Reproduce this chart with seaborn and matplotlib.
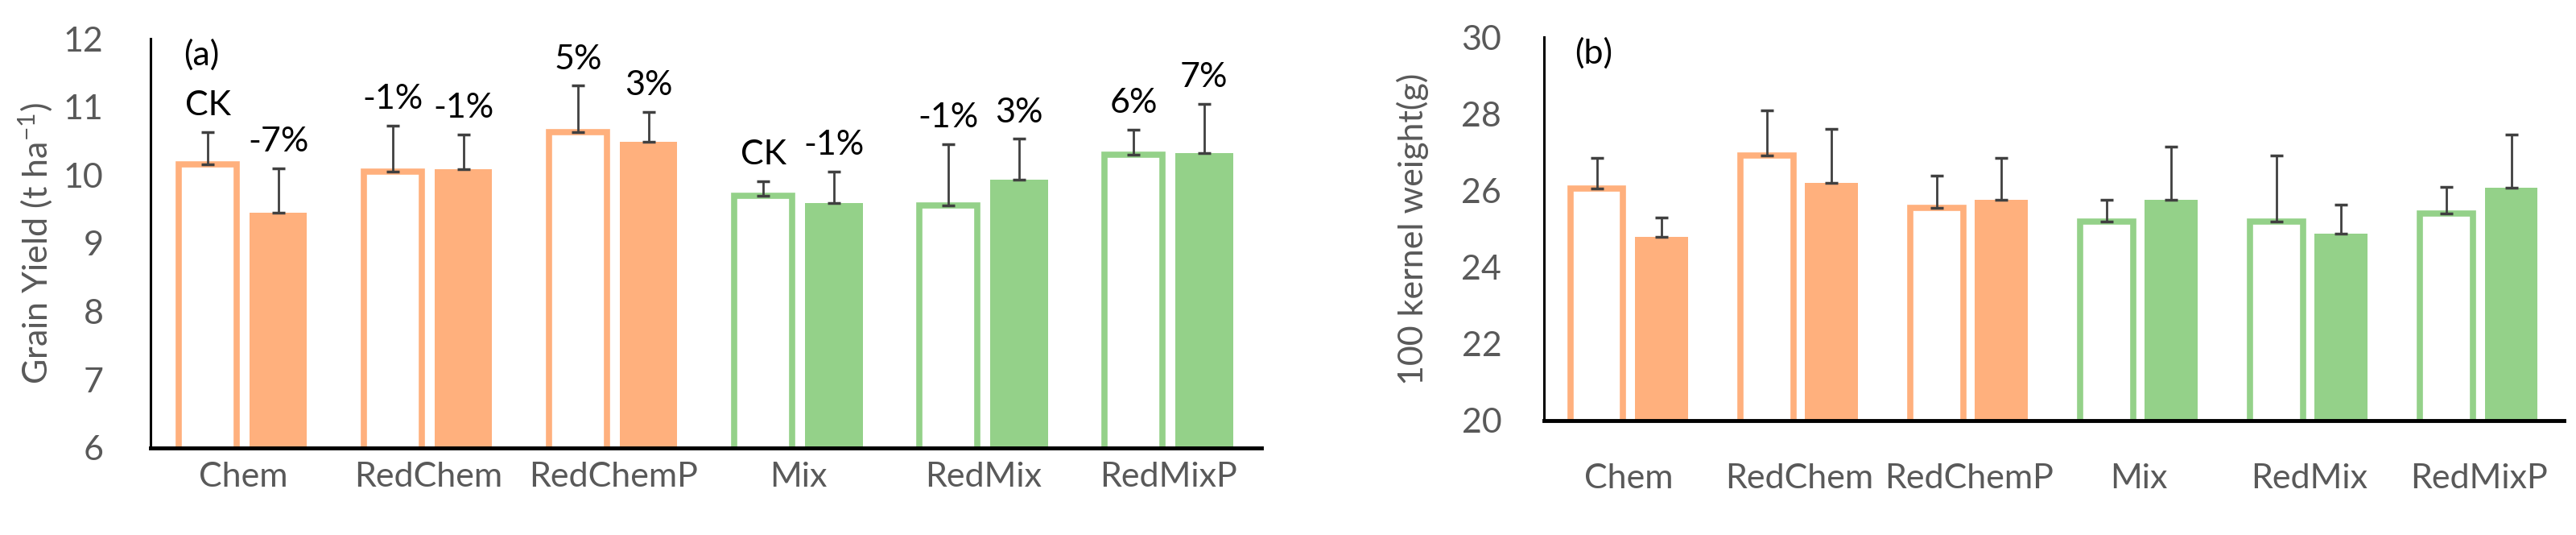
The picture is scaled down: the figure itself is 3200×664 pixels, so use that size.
import numpy as np
import pandas as pd
import matplotlib.pyplot as plt
import seaborn as sns

# categories and two series per category (outlined bar, filled bar)
treatments = ["Chem", "RedChem", "RedChemP", "Mix", "RedMix", "RedMixP"]
series = ["first", "second"]

# (a) grain yield, t/ha
yield_first = [10.16, 10.05, 10.63, 9.70, 9.56, 10.30]
yield_first_sd = [0.47, 0.67, 0.68, 0.21, 0.89, 0.37]
yield_second = [9.45, 10.09, 10.49, 9.59, 9.93, 10.32]
yield_second_sd = [0.65, 0.50, 0.44, 0.46, 0.60, 0.72]
yield_labels_first = ["CK", "-1%", "5%", "CK", "-1%", "6%"]
yield_labels_second = ["-7%", "-1%", "3%", "-1%", "3%", "7%"]

# (b) 100 kernel weight, g
kw_first = [26.05, 26.91, 25.54, 25.19, 25.19, 25.39]
kw_first_sd = [0.79, 1.18, 0.84, 0.57, 1.72, 0.71]
kw_second = [24.80, 26.19, 25.76, 25.76, 24.88, 26.07]
kw_second_sd = [0.49, 1.41, 1.08, 1.39, 0.75, 1.39]

group_colors = ["#FFB07D"] * 3 + ["#94D189"] * 3

sns.set_style("white")
plt.rcParams["font.family"] = ["Lato", "DejaVu Sans"]
plt.rcParams["mathtext.fontset"] = "custom"
plt.rcParams["mathtext.rm"] = "Lato"
plt.rcParams["mathtext.default"] = "regular"

FS = 31
GRAY = "#595959"


def panel(ax, first, first_sd, second, second_sd, ylim, yticks, ylabel, tag,
          labels_first=None, labels_second=None, xpad=8, ypad=40):
    df = pd.DataFrame({
        "treatment": treatments * 2,
        "series": [series[0]] * 6 + [series[1]] * 6,
        "value": first + second,
    })
    sns.barplot(data=df, x="treatment", y="value", hue="series",
                order=treatments, hue_order=series, width=0.76, gap=0.18,
                errorbar=None, legend=False, ax=ax)
    # outlined bars first, filled bars second
    for bar, c in zip(ax.containers[0], group_colors):
        bar.set_facecolor("white")
        bar.set_edgecolor(c)
        bar.set_linewidth(5.5)
    for bar, c in zip(ax.containers[1], group_colors):
        bar.set_facecolor(c)
        bar.set_edgecolor("none")

    for cont, vals, sd, labs in [(ax.containers[0], first, first_sd, labels_first),
                                 (ax.containers[1], second, second_sd, labels_second)]:
        xs = [b.get_x() + b.get_width() / 2 for b in cont]
        ax.errorbar(xs, vals, yerr=[np.zeros(len(sd)), sd], fmt="none",
                    ecolor="#404040", elinewidth=2, capsize=6, capthick=2.5, zorder=5)
        if labs is not None:
            for x, v, s, t in zip(xs, vals, sd, labs):
                ax.annotate(t, (x, v + s), xytext=(0, 10), textcoords="offset points",
                            ha="center", va="bottom", fontsize=FS, color="black")

    ax.set_ylim(*ylim)
    ax.set_xlim(-0.5, 5.5)
    ax.set_yticks(yticks)
    ax.set_xlabel("")
    ax.set_ylabel(ylabel, fontsize=FS, color=GRAY, va="center")
    ax.tick_params(axis="y", direction="in", length=10, width=2.2,
                   labelsize=FS, labelcolor=GRAY, pad=ypad, color="black")
    ax.tick_params(axis="x", length=0, labelsize=FS, labelcolor=GRAY, pad=xpad)
    sns.despine(ax=ax)
    ax.spines["left"].set_linewidth(2.2)
    ax.spines["left"].set_color("black")
    ax.spines["bottom"].set_linewidth(3.5)
    ax.spines["bottom"].set_color("black")
    ax.spines["bottom"].set_zorder(6)
    ax.text(0.03, 1.0, tag, transform=ax.transAxes, ha="left", va="top",
            fontsize=FS, color="black")


fig = plt.figure(figsize=(32, 6.64), dpi=100)
ax1 = fig.add_axes([0.0584, 0.1627, 0.4313, 0.7650])
ax2 = fig.add_axes([0.5994, 0.2139, 0.3959, 0.7168])

panel(ax1, yield_first, yield_first_sd, yield_second, yield_second_sd,
      (6, 12), range(6, 13), "Grain Yield (t ha$^{-1}$)", "(a)",
      yield_labels_first, yield_labels_second, xpad=12, ypad=42)
panel(ax2, kw_first, kw_first_sd, kw_second, kw_second_sd,
      (20, 30), range(20, 31, 2), "100 kernel weight(g)", "(b)",
      xpad=38, ypad=38)
ax1.yaxis.set_label_coords(-0.103, 0.5)
ax2.yaxis.set_label_coords(-0.129, 0.5)

fig.savefig("out.png", dpi=100)
